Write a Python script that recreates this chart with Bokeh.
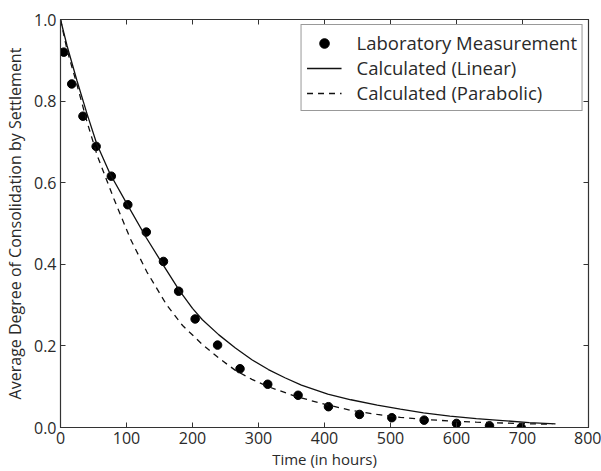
from bokeh.plotting import figure
from bokeh.models import (Range1d, FixedTicker, LinearAxis, PrintfTickFormatter, Legend, LegendItem,
                          CustomJSTickFormatter)
from bokeh.embed import file_html
from bokeh.resources import INLINE

# Laboratory measurement (time in hours, average degree of consolidation)
meas_t = [5, 17, 34, 54, 77, 102, 130, 156, 179, 204, 238, 272, 314, 360, 406, 453, 502, 551, 600, 650, 698]
meas_u = [0.920, 0.842, 0.763, 0.689, 0.616, 0.546, 0.479, 0.407, 0.334, 0.266, 0.202, 0.144, 0.106, 0.079,
          0.051, 0.032, 0.024, 0.018, 0.010, 0.004, 0.000]

# Calculated (Linear)
lin_t = [0, 10, 25, 40, 55, 75, 100, 130, 155, 180, 200, 215, 240, 265, 290, 315, 340, 365, 405, 440,
         480, 515, 550, 590, 630, 670, 710, 750]
lin_u = [1.0, 0.935, 0.85, 0.77, 0.695, 0.622, 0.55, 0.465, 0.40, 0.336, 0.292, 0.264, 0.227, 0.195,
         0.166, 0.142, 0.122, 0.104, 0.082, 0.068, 0.055, 0.045, 0.036, 0.028, 0.022, 0.017, 0.012, 0.009]

# Calculated (Parabolic)
par_t = [0, 10, 25, 40, 56, 81, 106, 131, 161, 185, 214, 240, 265, 290, 315, 355, 400, 440, 480, 515,
         550, 590, 630, 670, 710, 745]
par_u = [1.0, 0.925, 0.84, 0.75, 0.665, 0.56, 0.462, 0.381, 0.300, 0.250, 0.205, 0.170, 0.140, 0.118,
         0.100, 0.077, 0.057, 0.042, 0.032, 0.025, 0.020, 0.016, 0.013, 0.011, 0.009, 0.008]

x_ticks = [0, 100, 200, 300, 400, 500, 600, 700, 800]
y_ticks = [0.0, 0.2, 0.4, 0.6, 0.8, 1.0]

FONT = "Open Sans"
TXT = "#2a2a2a"
EDGE = "#333333"

p = figure(width=601, height=471, output_backend="svg", toolbar_location=None,
           x_range=Range1d(0, 800), y_range=Range1d(0, 1.0),
           min_border_left=58, min_border_right=13, min_border_top=19, min_border_bottom=41,
           x_axis_label="Time (in hours)",
           y_axis_label="Average Degree of Consolidation by Settlement")
p.background_fill_color = "white"
p.border_fill_color = "white"
p.outline_line_color = EDGE
p.outline_line_width = 1.2
p.xgrid.visible = False
p.ygrid.visible = False

for ax in (p.xaxis[0], p.yaxis[0]):
    ax.major_tick_in = 5
    ax.major_tick_out = 0
    ax.minor_tick_line_color = None
    ax.axis_line_color = EDGE
    ax.major_tick_line_color = EDGE
    ax.major_label_text_font = FONT
    ax.major_label_text_font_size = "16px"
    ax.major_label_text_color = TXT
    ax.axis_label_text_font = FONT
    ax.axis_label_text_font_style = "normal"
    ax.axis_label_text_color = TXT
    ax.major_label_standoff = 4

p.xaxis[0].axis_label_text_font_size = "15px"
p.yaxis[0].axis_label_text_font_size = "16px"
p.xaxis[0].ticker = FixedTicker(ticks=x_ticks)
p.yaxis[0].ticker = FixedTicker(ticks=y_ticks)
p.yaxis[0].formatter = PrintfTickFormatter(format="%.1f")
p.xaxis[0].axis_label_standoff = 2
p.yaxis[0].axis_label_standoff = 5

blank = CustomJSTickFormatter(code="return ''")
top = LinearAxis(ticker=FixedTicker(ticks=x_ticks), formatter=blank, major_tick_in=5, major_tick_out=0,
                 minor_tick_line_color=None, major_label_standoff=0,
                 axis_line_color=EDGE, major_tick_line_color=EDGE)
right = LinearAxis(ticker=FixedTicker(ticks=y_ticks), formatter=blank, major_tick_in=5, major_tick_out=0,
                   minor_tick_line_color=None, major_label_standoff=0,
                   axis_line_color=EDGE, major_tick_line_color=EDGE)
p.add_layout(top, "above")
p.add_layout(right, "right")

r_meas = p.scatter(meas_t, meas_u, size=8.5, marker="circle", fill_color="black", line_color="black")
r_lin = p.line(lin_t, lin_u, line_color="#111111", line_width=1.3)
r_par = p.line(par_t, par_u, line_color="#111111", line_width=1.3, line_dash="6 5")

legend = Legend(items=[
    LegendItem(label="Laboratory Measurement", renderers=[r_meas]),
    LegendItem(label="Calculated (Linear)", renderers=[r_lin]),
    LegendItem(label="Calculated (Parabolic)", renderers=[r_par]),
], location="top_right")
legend.margin = 5
legend.padding = 5
legend.spacing = 0
legend.glyph_width = 35
legend.glyph_height = 24
legend.label_standoff = 15
legend.label_height = 24
legend.label_text_font = FONT
legend.label_text_font_size = "18.5px"
legend.label_text_color = TXT
legend.border_line_color = EDGE
legend.border_line_width = 1.2
legend.background_fill_alpha = 1
p.add_layout(legend, "center")

open("out.html", "w").write(file_html(p, INLINE))
